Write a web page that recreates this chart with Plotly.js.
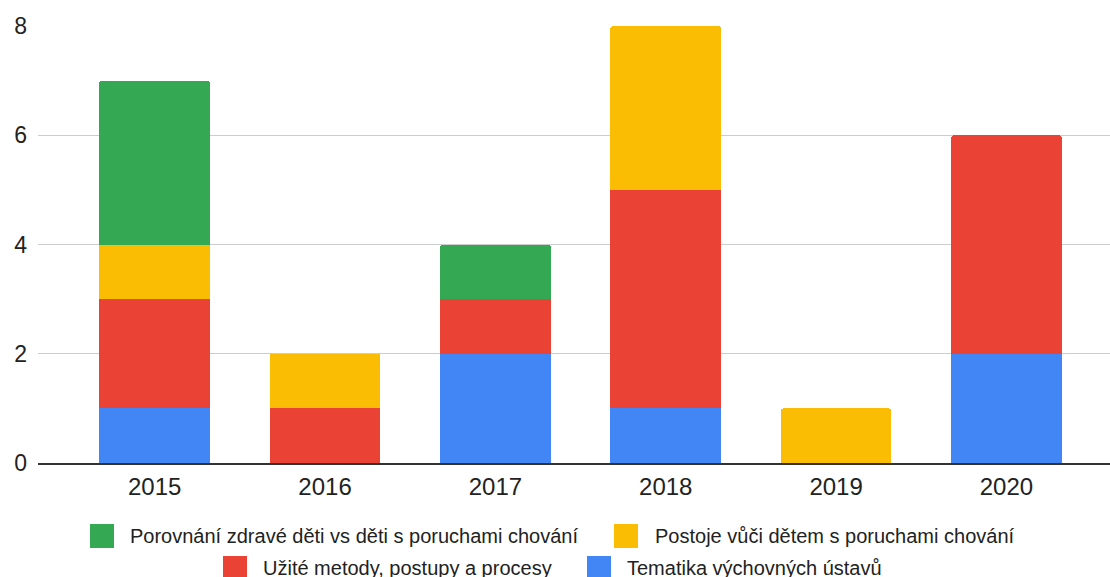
<!DOCTYPE html>
<html>
<head>
<meta charset="utf-8">
<script src="https://cdn.plot.ly/plotly-3.0.1.min.js"></script>
<style>html,body{margin:0;padding:0;background:#fff;}#chart{width:1110px;height:577px;}</style>
</head>
<body>
<div id="chart"></div>
<script>
// Data
var years = ['2015', '2016', '2017', '2018', '2019', '2020'];
var tematika = [1, 0, 2, 1, 0, 2];
var metody = [2, 1, 1, 4, 0, 4];
var postoje = [1, 1, 0, 3, 1, 0];
var porovnani = [3, 0, 1, 0, 0, 0];
var seriesNames = [
  'Tematika výchovných ústavů',
  'Užité metody, postupy a procesy',
  'Postoje vůči dětem s poruchami chování',
  'Porovnání zdravé děti vs děti s poruchami chování'
];
var seriesValues = [tematika, metody, postoje, porovnani];
var colors = ['#4285f4', '#ea4335', '#fbbc04', '#34a853'];

var traces = seriesValues.map(function (vals, i) {
  return {
    type: 'bar',
    x: years,
    y: vals,
    name: seriesNames[i],
    marker: { color: colors[i], line: { width: 0 } },
    showlegend: false,
    hoverinfo: 'x+y+name'
  };
});

// Manual legend (pixel positions converted to paper coords)
var L = 38, W = 1072, B = 463, H = 437;
function px(x) { return (x - L) / W; }
function py(y) { return (B - y) / H; }
// order of legend items: green, yellow (row 1); red, blue (row 2)
var legendItems = [
  { s: 3, sq: 90, tx: 128, cy: 536 },
  { s: 2, sq: 614, tx: 653, cy: 536 },
  { s: 1, sq: 223, tx: 261, cy: 568 },
  { s: 0, sq: 587, tx: 625, cy: 568 }
];
var shapes = [], annotations = [];
legendItems.forEach(function (it) {
  shapes.push({
    type: 'rect', xref: 'paper', yref: 'paper',
    x0: px(it.sq), x1: px(it.sq + 24), y0: py(it.cy - 12), y1: py(it.cy + 12),
    fillcolor: colors[it.s], line: { width: 0 }
  });
  annotations.push({
    xref: 'paper', yref: 'paper', x: px(it.tx), y: py(it.cy),
    xanchor: 'left', yanchor: 'middle', showarrow: false,
    text: seriesNames[it.s],
    font: { family: 'Liberation Sans, Arial, sans-serif', size: 20, color: '#222222' }
  });
});

var layout = {
  width: 1110, height: 577,
  margin: { l: 38, r: 0, t: 26, b: 114, pad: 0 },
  paper_bgcolor: '#ffffff', plot_bgcolor: '#ffffff',
  barmode: 'stack',
  bargap: 0.35,
  barcornerradius: 3,
  showlegend: false,
  font: { family: 'Liberation Sans, Arial, sans-serif', color: '#222222' },
  xaxis: {
    type: 'category',
    range: [-0.685, 5.608],
    showgrid: false, zeroline: false,
    showline: true, linecolor: '#333333', linewidth: 2,
    ticks: '', ticklabelstandoff: 1,
    tickfont: { size: 24, color: '#222222' },
    fixedrange: true
  },
  yaxis: {
    range: [0, 8], dtick: 2, tick0: 0,
    showgrid: true, gridcolor: '#cccccc', gridwidth: 1,
    zeroline: false, showline: false,
    ticks: '', ticklabelstandoff: 10,
    tickfont: { size: 23, color: '#222222' },
    fixedrange: true
  },
  shapes: shapes,
  annotations: annotations
};

Plotly.newPlot('chart', traces, layout, { displayModeBar: false, staticPlot: true });
</script>
</body>
</html>
